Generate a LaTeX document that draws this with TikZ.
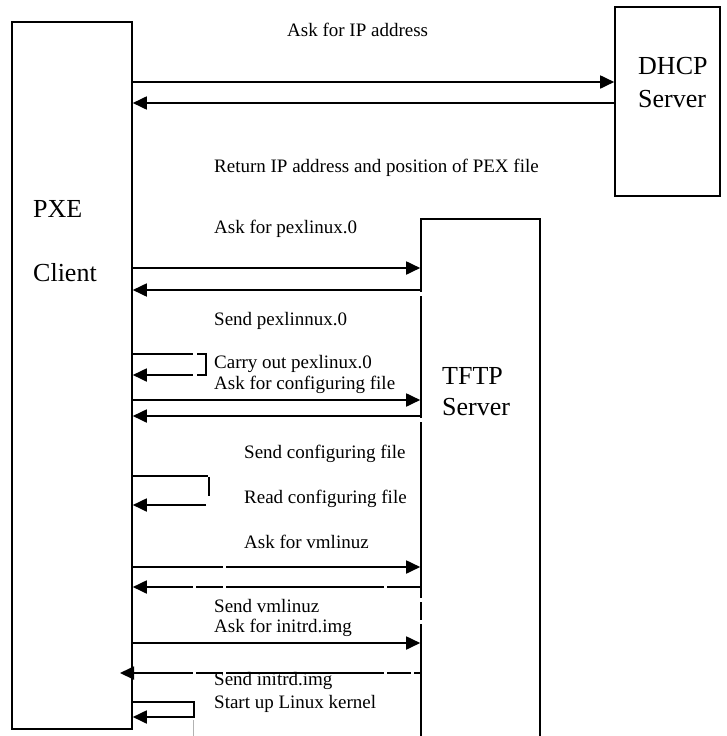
\documentclass[tikz,border=0pt]{standalone}
\usepackage{fontspec}
\setmainfont{Liberation Serif}
\usetikzlibrary{arrows.meta}
\begin{document}
\begin{tikzpicture}[x=1pt,y=-1pt,
  box/.style={draw, line width=1.6pt, inner sep=0pt},
  wire/.style={line width=1.8pt},
  msg/.style={wire, -{Triangle[length=14pt,width=13pt]}},
  lbl/.style={anchor=base west, inner sep=0pt, font=\fontsize{19}{23}\selectfont},
  big/.style={anchor=base west, inner sep=0pt, font=\fontsize{26}{30}\selectfont},
  gap/.style={fill=white}]
\useasboundingbox (0,0) rectangle (727,736);

% participants
\node[box, minimum width=120pt, minimum height=707pt] (pxe) at (72,375.5) {};
\node[box, minimum width=105pt, minimum height=189pt] (dhcp) at (667.5,101.5) {};
\node[box, minimum width=119pt, minimum height=540pt] (tftp) at (480.5,489) {};

\node[big] (pxeA) at (33,217) {PXE};
\node[big] (pxeB) at (33,281) {Client};
\node[big] (dhcpA) at (638,74) {DHCP};
\node[big] (dhcpB) at (638,107) {Server};
\node[big] (tftpA) at (442,384) {TFTP};
\node[big] (tftpB) at (442,415) {Server};

% DHCP exchange
\draw[msg] (pxe.east |- 0,82) -- (dhcp.west |- 0,82);
\draw[msg] (dhcp.west |- 0,103) -- (pxe.east |- 0,103);
\node[lbl] (t1) at (287,36) {Ask for IP address};
\node[lbl] (t2) at (214,172) {Return IP address and position of PEX file};

% boot loader
\node[lbl] (t3) at (214,233) {Ask for pexlinux.0};
\draw[msg] (pxe.east |- 0,268) -- (tftp.west |- 0,268);
\draw[msg] (tftp.west |- 0,290) -- (pxe.east |- 0,290);
\node[lbl] (t4) at (214,325) {Send pexlinnux.0};

\coordinate (loopA) at (206,354);
\draw[msg] (pxe.east |- loopA) -- (loopA) -- (206,375) -- (pxe.east |- 0,375);
\node[lbl] (t5) at (214,368) {Carry out pexlinux.0};

% configuration file
\node[lbl] (t6) at (214,389) {Ask for configuring file};
\draw[msg] (pxe.east |- 0,400) -- (tftp.west |- 0,400);
\draw[msg] (tftp.west |- 0,416) -- (pxe.east |- 0,416);
\node[lbl] (t7) at (244,458) {Send configuring file};

\coordinate (loopB) at (208,476);
\draw[wire] (pxe.east |- loopB) -- (loopB);
\draw[wire] (209,477) -- (209,496);
\coordinate (loopBret) at (206,505);
\draw[msg] (loopBret) -- (pxe.east |- loopBret);
\node[lbl] (t8) at (244,503) {Read configuring file};

% kernel and initrd
\node[lbl] (t9) at (244,548) {Ask for vmlinuz};
\draw[msg] (pxe.east |- 0,567) -- (tftp.west |- 0,567);
\draw[msg] (tftp.west |- 0,587) -- (pxe.east |- 0,587);
\node[lbl] (t10) at (214,612) {Send vmlinuz};
\node[lbl] (t11) at (214,632) {Ask for initrd.img};
\draw[msg] (pxe.east |- 0,643) -- (tftp.west |- 0,643);
\coordinate (farEnd) at (120,673);
\draw[msg] (tftp.west |- 0,673) -- (farEnd);
\node[lbl] (t12) at (214,685) {Send initrd.img};

\coordinate (loopC) at (194,702);
\draw[msg] (pxe.east |- loopC) -- (loopC) -- (194,717) -- (pxe.east |- 0,717);
\draw[gray!60, line width=0.6pt] (193,720) -- (193,736);
\node[lbl] (t13) at (214,708) {Start up Linux kernel};

% small breaks in the strokes
\fill[gap] (193,350) rectangle (196.5,358);
\fill[gap] (193,371) rectangle (196.5,379);
\fill[gap] (223,563) rectangle (226,571);
\foreach \x in {193,223,384}
  \fill[gap] (\x,583) rectangle (\x+3,591);
\foreach \x in {193,223,384,411}
  \fill[gap] (\x,669) rectangle (\x+3,677);
\foreach \y in {292,418,598,620}
  \fill[gap] (418,\y) rectangle (424,\y+3.5);
\end{tikzpicture}
\end{document}
